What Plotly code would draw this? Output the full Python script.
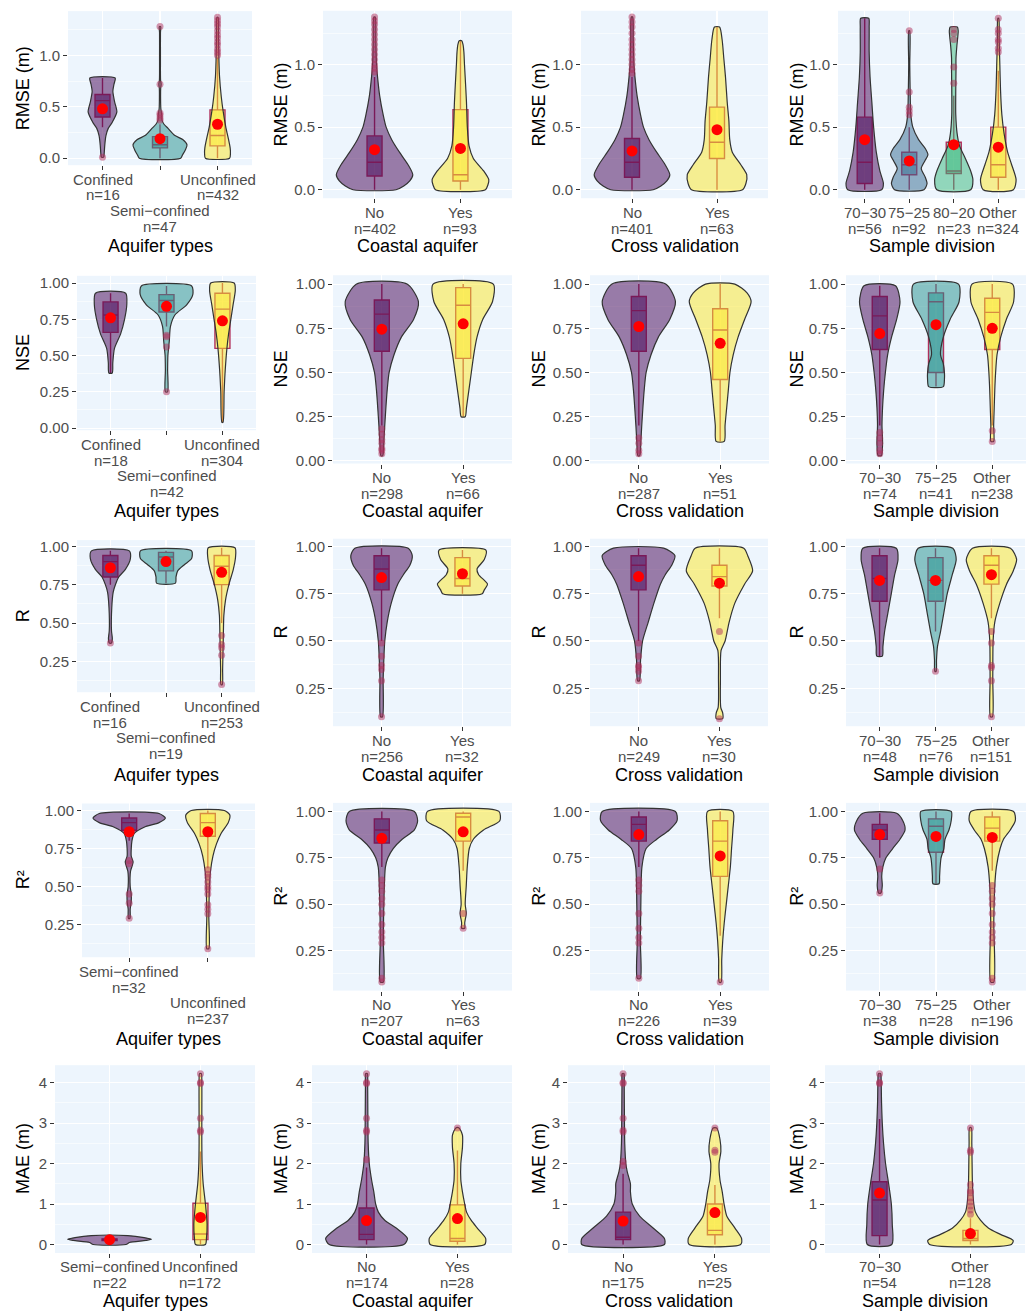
import plotly.graph_objects as go

W, H = 1032, 1316
M = "\u2212"

# ---------------- categories ----------------
AQ3 = ["Confined", "Semi" + M + "confined", "Unconfined"]
AQ2 = ["Semi" + M + "confined", "Unconfined"]
YN = ["No", "Yes"]
SD4 = ["70" + M + "30", "75" + M + "25", "80" + M + "20", "Other"]
SD3 = ["70" + M + "30", "75" + M + "25", "Other"]
SD2 = ["70" + M + "30", "Other"]

# ---------------- RMSE ----------------
RMSE_AQ_N = [16, 47, 432]
RMSE_AQ_MEAN = [0.48, 0.19, 0.33]
RMSE_AQ_BOX = [[0.30, 0.40, 0.56, 0.62, 0.78], [0.0, 0.10, 0.13, 0.21, 0.33], [0.0, 0.12, 0.22, 0.47, 0.98]]
RMSE_AQ_OUT = [[0.01], [0.37, 0.39, 0.42, 0.44, 0.72, 1.28],
               [1.0, 1.03, 1.06, 1.1, 1.13, 1.17, 1.2, 1.24, 1.28, 1.31, 1.34, 1.37]]
RMSE_AQ_VIO = [
    [(0.01, 0.02), (0.05, 0.03), (0.13, 0.04), (0.22, 0.06), (0.29, 0.1), (0.35, 0.17), (0.45, 0.25),
     (0.55, 0.21), (0.65, 0.18), (0.72, 0.2), (0.78, 0.22)],
    [(0.0, 0.36), (0.03, 0.39), (0.08, 0.44), (0.13, 0.47), (0.18, 0.4), (0.22, 0.26), (0.29, 0.14),
     (0.33, 0.07), (0.37, 0.035), (0.42, 0.03), (0.48, 0.015), (0.6, 0.01), (0.68, 0.012), (0.72, 0.02),
     (0.76, 0.01), (1.0, 0.008), (1.22, 0.008), (1.28, 0.012)],
    [(0.0, 0.21), (0.05, 0.225), (0.1, 0.22), (0.2, 0.185), (0.3, 0.145), (0.45, 0.10), (0.6, 0.065),
     (0.8, 0.035), (1.0, 0.023), (1.2, 0.017), (1.37, 0.01)],
]

RMSE_CO_N = [402, 93]
RMSE_CO_MEAN = [0.32, 0.33]
RMSE_CO_BOX = [[0.0, 0.11, 0.22, 0.43, 0.9], [0.0, 0.07, 0.12, 0.64, 1.19]]
RMSE_CO_OUT = [[0.94, 0.97, 1.0, 1.04, 1.08, 1.12, 1.16, 1.2, 1.24, 1.28, 1.32, 1.35, 1.38], []]
RMSE_CO_VIO = [
    [(0.0, 0.25), (0.03, 0.34), (0.07, 0.41), (0.12, 0.445), (0.2, 0.39), (0.3, 0.29), (0.4, 0.2),
     (0.5, 0.135), (0.6, 0.1), (0.75, 0.06), (0.9, 0.035), (1.0, 0.023), (1.2, 0.015), (1.38, 0.008)],
    [(0.0, 0.29), (0.04, 0.32), (0.08, 0.33), (0.15, 0.27), (0.25, 0.15), (0.35, 0.1), (0.5, 0.08),
     (0.7, 0.07), (0.9, 0.055), (1.0, 0.047), (1.1, 0.04), (1.16, 0.03), (1.19, 0.015)],
]

RMSE_CV_N = [401, 63]
RMSE_CV_MEAN = [0.31, 0.48]
RMSE_CV_BOX = [[0.0, 0.10, 0.22, 0.41, 0.9], [0.0, 0.25, 0.38, 0.66, 1.3]]
RMSE_CV_OUT = [[0.93, 0.96, 1.0, 1.04, 1.08, 1.12, 1.16, 1.2, 1.25, 1.3, 1.34, 1.38], []]
RMSE_CV_VIO = [
    [(0.0, 0.25), (0.03, 0.34), (0.07, 0.41), (0.12, 0.445), (0.2, 0.39), (0.3, 0.29), (0.4, 0.2),
     (0.5, 0.135), (0.6, 0.1), (0.75, 0.06), (0.9, 0.035), (1.0, 0.023), (1.2, 0.015), (1.38, 0.008)],
    [(0.0, 0.3), (0.05, 0.34), (0.12, 0.35), (0.2, 0.28), (0.3, 0.18), (0.4, 0.15), (0.55, 0.14),
     (0.7, 0.12), (0.9, 0.1), (1.05, 0.08), (1.2, 0.06), (1.3, 0.03)],
]

RMSE_SD_N = [56, 92, 23, 324]
RMSE_SD_MEAN = [0.40, 0.23, 0.36, 0.34]
RMSE_SD_BOX = [[0.0, 0.05, 0.22, 0.58, 1.37], [0.0, 0.12, 0.2, 0.3, 0.5],
               [0.0, 0.13, 0.15, 0.38, 0.75], [0.0, 0.1, 0.2, 0.5, 0.95]]
RMSE_SD_OUT = [[], [0.6, 0.63, 0.66, 0.78, 1.27], [0.85, 0.98, 1.2, 1.25, 1.28],
               [1.1, 1.13, 1.18, 1.2, 1.25, 1.28, 1.37]]
RMSE_SD_VIO = [
    [(0.0, 0.38), (0.05, 0.42), (0.15, 0.34), (0.3, 0.26), (0.5, 0.2), (0.7, 0.16), (0.9, 0.12),
     (1.1, 0.1), (1.3, 0.1), (1.37, 0.09)],
    [(0.0, 0.33), (0.05, 0.4), (0.1, 0.36), (0.17, 0.27), (0.23, 0.35), (0.28, 0.42), (0.33, 0.36),
     (0.4, 0.21), (0.5, 0.08), (0.6, 0.035), (0.8, 0.02), (1.0, 0.012), (1.27, 0.01)],
    [(0.0, 0.38), (0.08, 0.43), (0.15, 0.38), (0.25, 0.26), (0.35, 0.13), (0.45, 0.075), (0.6, 0.045),
     (0.8, 0.045), (0.95, 0.05), (1.05, 0.05), (1.15, 0.07), (1.22, 0.09), (1.27, 0.1), (1.3, 0.08)],
    [(0.0, 0.34), (0.08, 0.4), (0.2, 0.3), (0.3, 0.21), (0.45, 0.13), (0.6, 0.08), (0.8, 0.05),
     (1.0, 0.035), (1.2, 0.02), (1.37, 0.01)],
]

# ---------------- NSE ----------------
NSE_AQ_N = [18, 42, 304]
NSE_AQ_MEAN = [0.76, 0.84, 0.74]
NSE_AQ_BOX = [[0.38, 0.66, 0.78, 0.87, 0.93], [0.7, 0.8, 0.88, 0.92, 0.98], [0.04, 0.55, 0.82, 0.93, 1.0]]
NSE_AQ_OUT = [[], [0.25, 0.56, 0.63, 0.64], []]
NSE_AQ_VIO = [
    [(0.38, 0.03), (0.45, 0.04), (0.55, 0.07), (0.65, 0.18), (0.75, 0.25), (0.85, 0.29), (0.93, 0.27)],
    [(0.25, 0.02), (0.4, 0.02), (0.5, 0.025), (0.6, 0.05), (0.7, 0.07), (0.78, 0.15), (0.85, 0.36),
     (0.92, 0.47), (0.98, 0.45)],
    [(0.04, 0.01), (0.25, 0.03), (0.4, 0.05), (0.55, 0.08), (0.65, 0.11), (0.75, 0.15), (0.85, 0.19),
     (0.95, 0.23), (1.0, 0.21)],
]

NSE_CO_N = [298, 66]
NSE_CO_MEAN = [0.745, 0.775]
NSE_CO_BOX = [[0.2, 0.62, 0.83, 0.91, 1.0], [0.25, 0.58, 0.88, 0.98, 1.0]]
NSE_CO_OUT = [[0.04, 0.06, 0.07, 0.1, 0.12, 0.15, 0.18], []]
NSE_CO_VIO = [
    [(0.03, 0.012), (0.1, 0.024), (0.2, 0.036), (0.3, 0.05), (0.4, 0.066), (0.5, 0.09), (0.6, 0.15),
     (0.7, 0.24), (0.8, 0.39), (0.9, 0.45), (1.0, 0.31)],
    [(0.25, 0.025), (0.3, 0.04), (0.4, 0.07), (0.5, 0.1), (0.6, 0.13), (0.7, 0.17), (0.8, 0.24),
     (0.9, 0.36), (1.0, 0.37)],
]

NSE_CV_N = [287, 51]
NSE_CV_MEAN = [0.76, 0.665]
NSE_CV_BOX = [[0.2, 0.62, 0.85, 0.93, 1.0], [0.11, 0.46, 0.74, 0.86, 1.0]]
NSE_CV_OUT = [[0.04, 0.06, 0.1, 0.13], []]
NSE_CV_VIO = [
    [(0.03, 0.012), (0.1, 0.024), (0.2, 0.036), (0.3, 0.05), (0.4, 0.066), (0.5, 0.09), (0.6, 0.15),
     (0.7, 0.24), (0.8, 0.38), (0.9, 0.45), (1.0, 0.33)],
    [(0.11, 0.05), (0.2, 0.06), (0.3, 0.08), (0.4, 0.1), (0.5, 0.12), (0.6, 0.16), (0.7, 0.22),
     (0.8, 0.3), (0.9, 0.38), (0.95, 0.33), (1.0, 0.18)],
]

NSE_SD_N = [74, 41, 238]
NSE_SD_MEAN = [0.72, 0.77, 0.75]
NSE_SD_BOX = [[0.2, 0.63, 0.82, 0.93, 0.99], [0.42, 0.5, 0.9, 0.95, 1.0], [0.2, 0.63, 0.84, 0.92, 1.0]]
NSE_SD_OUT = [[0.04, 0.06, 0.1, 0.13, 0.16], [], [0.11, 0.17]]
NSE_SD_VIO = [
    [(0.03, 0.03), (0.1, 0.05), (0.2, 0.04), (0.3, 0.05), (0.4, 0.07), (0.5, 0.1), (0.6, 0.14),
     (0.7, 0.21), (0.8, 0.3), (0.9, 0.36), (0.99, 0.28)],
    [(0.42, 0.13), (0.46, 0.15), (0.5, 0.15), (0.55, 0.13), (0.6, 0.08), (0.7, 0.13), (0.8, 0.25),
     (0.9, 0.41), (1.0, 0.4)],
    [(0.11, 0.025), (0.2, 0.025), (0.3, 0.035), (0.4, 0.045), (0.5, 0.06), (0.6, 0.085), (0.7, 0.15),
     (0.8, 0.25), (0.9, 0.38), (1.0, 0.36)],
]

# ---------------- R ----------------
R_AQ_N = [16, 19, 253]
R_AQ_MEAN = [0.86, 0.9, 0.83]
R_AQ_BOX = [[0.75, 0.8, 0.9, 0.94, 0.97], [0.76, 0.84, 0.93, 0.96, 0.97], [0.5, 0.75, 0.87, 0.94, 0.99]]
R_AQ_OUT = [[0.37], [], [0.1, 0.29, 0.34, 0.36, 0.42]]
R_AQ_VIO = [
    [(0.37, 0.02), (0.4, 0.035), (0.45, 0.02), (0.6, 0.025), (0.7, 0.05), (0.75, 0.09), (0.8, 0.15),
     (0.85, 0.27), (0.92, 0.36), (0.97, 0.34)],
    [(0.76, 0.17), (0.8, 0.18), (0.84, 0.21), (0.88, 0.33), (0.92, 0.46), (0.97, 0.46)],
    [(0.1, 0.012), (0.2, 0.018), (0.4, 0.03), (0.55, 0.04), (0.65, 0.07), (0.75, 0.13), (0.85, 0.21),
     (0.93, 0.25), (0.99, 0.24)],
]

R_CO_N = [256, 32]
R_CO_MEAN = [0.835, 0.855]
R_CO_BOX = [[0.5, 0.77, 0.88, 0.95, 0.99], [0.75, 0.79, 0.83, 0.94, 0.98]]
R_CO_OUT = [[0.1, 0.29, 0.35, 0.37, 0.42, 0.49], []]
R_CO_VIO = [
    [(0.1, 0.012), (0.3, 0.02), (0.4, 0.028), (0.5, 0.04), (0.6, 0.07), (0.7, 0.12), (0.8, 0.2),
     (0.85, 0.27), (0.9, 0.35), (0.95, 0.38), (0.99, 0.33)],
    [(0.75, 0.245), (0.77, 0.27), (0.8, 0.31), (0.85, 0.2), (0.88, 0.18), (0.93, 0.27), (0.98, 0.29)],
]

R_CV_N = [249, 30]
R_CV_MEAN = [0.84, 0.805]
R_CV_BOX = [[0.5, 0.77, 0.9, 0.95, 0.99], [0.62, 0.79, 0.84, 0.9, 0.99]]
R_CV_OUT = [[0.29, 0.34, 0.36, 0.37, 0.42, 0.49], [0.09, 0.55]]
R_CV_VIO = [
    [(0.29, 0.012), (0.4, 0.025), (0.5, 0.05), (0.6, 0.12), (0.7, 0.19), (0.8, 0.27), (0.85, 0.33),
     (0.9, 0.41), (0.95, 0.45), (0.99, 0.31)],
    [(0.09, 0.04), (0.12, 0.04), (0.15, 0.016), (0.3, 0.012), (0.45, 0.02), (0.5, 0.07), (0.6, 0.12),
     (0.7, 0.19), (0.8, 0.31), (0.87, 0.41), (0.95, 0.35), (0.99, 0.3)],
]

R_SD_N = [48, 76, 151]
R_SD_MEAN = [0.82, 0.82, 0.85]
R_SD_BOX = [[0.42, 0.71, 0.83, 0.95, 0.99], [0.55, 0.71, 0.82, 0.94, 0.99], [0.62, 0.8, 0.9, 0.95, 0.99]]
R_SD_OUT = [[], [0.34], [0.1, 0.29, 0.36, 0.37, 0.49, 0.55]]
R_SD_VIO = [
    [(0.42, 0.05), (0.47, 0.06), (0.55, 0.09), (0.65, 0.15), (0.75, 0.21), (0.85, 0.27), (0.93, 0.33),
     (0.99, 0.3)],
    [(0.34, 0.012), (0.4, 0.018), (0.47, 0.035), (0.55, 0.09), (0.65, 0.15), (0.75, 0.21), (0.85, 0.3),
     (0.93, 0.37), (0.99, 0.31)],
    [(0.1, 0.018), (0.3, 0.024), (0.5, 0.03), (0.6, 0.06), (0.7, 0.15), (0.8, 0.27), (0.87, 0.39),
     (0.93, 0.45), (0.99, 0.34)],
]

# ---------------- R2 ----------------
R2_AQ_N = [32, 237]
R2_AQ_MEAN = [0.86, 0.86]
R2_AQ_BOX = [[0.8, 0.87, 0.92, 0.95, 0.98], [0.62, 0.83, 0.92, 0.98, 1.0]]
R2_AQ_OUT = [[0.29, 0.39, 0.45, 0.65, 0.67],
             [0.09, 0.32, 0.35, 0.38, 0.45, 0.48, 0.5, 0.53, 0.56, 0.58, 0.61]]
R2_AQ_VIO = [
    [(0.29, 0.01), (0.35, 0.013), (0.4, 0.026), (0.45, 0.026), (0.5, 0.013), (0.6, 0.017), (0.66, 0.05),
     (0.7, 0.026), (0.8, 0.035), (0.85, 0.065), (0.89, 0.19), (0.92, 0.38), (0.95, 0.46), (0.98, 0.38)],
    [(0.09, 0.013), (0.3, 0.013), (0.5, 0.021), (0.6, 0.034), (0.7, 0.065), (0.78, 0.11), (0.85, 0.17),
     (0.92, 0.26), (0.97, 0.28), (1.0, 0.21)],
]

R2_CO_N = [207, 63]
R2_CO_MEAN = [0.855, 0.89]
R2_CO_BOX = [[0.7, 0.83, 0.9, 0.96, 1.0], [0.68, 0.84, 0.97, 0.99, 1.0]]
R2_CO_OUT = [[0.08, 0.1, 0.29, 0.32, 0.35, 0.39, 0.45, 0.5, 0.53, 0.57, 0.6, 0.63], [0.37, 0.45]]
R2_CO_VIO = [
    [(0.08, 0.019), (0.3, 0.019), (0.5, 0.025), (0.7, 0.044), (0.75, 0.075), (0.8, 0.14), (0.85, 0.25),
     (0.9, 0.4), (0.95, 0.44), (1.0, 0.4)],
    [(0.37, 0.019), (0.4, 0.019), (0.45, 0.038), (0.5, 0.025), (0.6, 0.038), (0.7, 0.05), (0.8, 0.075),
     (0.85, 0.125), (0.9, 0.25), (0.95, 0.45), (1.0, 0.44)],
]

R2_CV_N = [226, 39]
R2_CV_MEAN = [0.875, 0.76]
R2_CV_BOX = [[0.7, 0.84, 0.93, 0.97, 1.0], [0.33, 0.65, 0.84, 0.95, 1.0]]
R2_CV_OUT = [[0.1, 0.29, 0.32, 0.37, 0.45, 0.57, 0.6, 0.63], [0.08]]
R2_CV_VIO = [
    [(0.1, 0.019), (0.3, 0.019), (0.5, 0.025), (0.7, 0.038), (0.8, 0.09), (0.85, 0.22), (0.9, 0.375),
     (0.95, 0.47), (1.0, 0.45)],
    [(0.08, 0.012), (0.2, 0.019), (0.3, 0.031), (0.4, 0.05), (0.5, 0.075), (0.6, 0.1), (0.7, 0.125),
     (0.8, 0.14), (0.9, 0.156), (1.0, 0.156)],
]

R2_SD_N = [38, 28, 196]
R2_SD_MEAN = [0.875, 0.865, 0.86]
R2_SD_BOX = [[0.75, 0.85, 0.9, 0.93, 0.99], [0.61, 0.78, 0.92, 0.96, 1.0], [0.68, 0.84, 0.91, 0.97, 1.0]]
R2_SD_OUT = [[0.56, 0.69], [], [0.08, 0.1, 0.29, 0.32, 0.35, 0.39, 0.45, 0.5, 0.53, 0.57, 0.6]]
R2_SD_VIO = [
    [(0.56, 0.02), (0.6, 0.045), (0.65, 0.035), (0.7, 0.055), (0.75, 0.11), (0.8, 0.23), (0.85, 0.36),
     (0.9, 0.45), (0.95, 0.41), (0.99, 0.3)],
    [(0.61, 0.055), (0.65, 0.064), (0.7, 0.073), (0.75, 0.09), (0.8, 0.14), (0.85, 0.16), (0.9, 0.23),
     (0.95, 0.27), (1.0, 0.27)],
    [(0.08, 0.027), (0.4, 0.027), (0.6, 0.045), (0.7, 0.073), (0.8, 0.14), (0.85, 0.2), (0.9, 0.32),
     (0.95, 0.41), (1.0, 0.38)],
]

# ---------------- MAE ----------------
MAE_AQ_N = [22, 172]
MAE_AQ_MEAN = [0.12, 0.67]
MAE_AQ_BOX = [[0.05, 0.1, 0.12, 0.14, 0.2], [0.0, 0.12, 0.26, 1.02, 2.3]]
MAE_AQ_OUT = [[], [2.78, 2.82, 3.12, 3.98, 4.0, 4.22]]
MAE_AQ_VIO = [
    [(0.0, 0.18), (0.05, 0.22), (0.1, 0.4), (0.13, 0.46), (0.17, 0.38), (0.22, 0.2)],
    [(0.0, 0.055), (0.15, 0.066), (0.5, 0.073), (1.0, 0.055), (1.5, 0.03), (2.0, 0.018), (2.5, 0.015),
     (3.0, 0.015), (4.0, 0.015), (4.22, 0.01)],
]

MAE_CO_N = [174, 28]
MAE_CO_MEAN = [0.59, 0.64]
MAE_CO_BOX = [[0.0, 0.12, 0.25, 0.9, 1.9], [0.0, 0.08, 0.15, 0.98, 2.32]]
MAE_CO_OUT = [[2.1, 2.78, 2.82, 3.12, 3.98, 4.0, 4.22], [2.88]]
MAE_CO_VIO = [
    [(0.0, 0.41), (0.15, 0.45), (0.4, 0.33), (0.6, 0.2), (0.8, 0.13), (1.0, 0.1), (1.3, 0.08),
     (1.6, 0.055), (2.0, 0.03), (2.5, 0.018), (3.0, 0.015), (4.0, 0.012), (4.22, 0.01)],
    [(0.0, 0.3), (0.15, 0.31), (0.4, 0.22), (0.6, 0.15), (0.8, 0.1), (1.0, 0.08), (1.3, 0.055),
     (1.6, 0.037), (2.0, 0.037), (2.4, 0.055), (2.7, 0.055), (2.88, 0.018)],
]

MAE_CV_N = [175, 25]
MAE_CV_MEAN = [0.58, 0.79]
MAE_CV_BOX = [[0.0, 0.12, 0.18, 0.8, 1.75], [0.0, 0.24, 0.35, 1.0, 1.47]]
MAE_CV_OUT = [[1.95, 2.05, 2.78, 2.82, 3.12, 3.98, 4.0, 4.22], [2.28, 2.33, 2.88]]
MAE_CV_VIO = [
    [(0.0, 0.45), (0.15, 0.45), (0.4, 0.33), (0.7, 0.18), (1.0, 0.1), (1.3, 0.08), (1.5, 0.08),
     (1.8, 0.045), (2.0, 0.03), (2.5, 0.018), (3.0, 0.015), (4.0, 0.012), (4.22, 0.01)],
    [(0.0, 0.28), (0.15, 0.29), (0.4, 0.22), (0.7, 0.13), (1.0, 0.1), (1.3, 0.08), (1.6, 0.055),
     (2.0, 0.045), (2.3, 0.065), (2.6, 0.055), (2.88, 0.02)],
]

MAE_SD_N = [54, 128]
MAE_SD_MEAN = [1.27, 0.27]
MAE_SD_BOX = [[0.0, 0.22, 1.1, 1.55, 3.1], [0.0, 0.1, 0.15, 0.35, 0.65]]
MAE_SD_OUT = [[3.98, 4.0, 4.22], [0.75, 0.85, 0.95, 1.05, 1.15, 1.28, 1.32, 1.48, 2.28, 2.33, 2.88]]
MAE_SD_VIO = [
    [(0.0, 0.135), (0.5, 0.14), (1.0, 0.13), (1.5, 0.1), (2.0, 0.066), (2.5, 0.044), (3.0, 0.03),
     (3.5, 0.022), (4.0, 0.018), (4.22, 0.012)],
    [(0.0, 0.45), (0.1, 0.47), (0.25, 0.33), (0.4, 0.2), (0.6, 0.11), (0.8, 0.055), (1.0, 0.037),
     (1.5, 0.022), (2.0, 0.018), (2.5, 0.015), (2.88, 0.01)],
]

# ---------------- styles ----------------
PURPLE, TEAL, YELLOW, BLUE, GREEN = "#440154", "#21908C", "#FDE725", "#31688E", "#35B779"
PAL = {2: [PURPLE, YELLOW], 3: [PURPLE, TEAL, YELLOW], 4: [PURPLE, BLUE, GREEN, YELLOW]}
CRIMSON = "#B0305C"
BG = "#EDF5FD"
FONT = "Liberation Sans, Arial, sans-serif"
TICKC = "#4D4D4D"

ROW_Y = {  # y-range, dtick, tick format, axis title, x-title y pixel
    1: ([-0.068, 1.43], 0.5, ".1f", "RMSE (m)", 245),
    2: ([-0.015, 1.05], 0.25, ".2f", "NSE", 512),
    3: ([0.05, 1.04], 0.25, ".2f", "R", 777),
    4: ([0.034, 1.046], 0.25, ".2f", "R\u00b2", 1043),
    5: ([-0.21, 4.43], 1, "d", "MAE (m)", 1307),
}
COL_X = {1: "Aquifer types", 2: "Coastal aquifer", 3: "Cross validation", 4: "Sample division"}

# panel frames in pixels: left, right, top, bottom
GEOM = {
    (1, 1): (68, 252, 8.2, 163.3), (1, 2): (323, 512, 7.8, 196.6), (1, 3): (581, 768, 7.8, 196.6), (1, 4): (838, 1025, 7.8, 196.6),
    (2, 1): (77, 256, 274.7, 430.2), (2, 2): (333, 512, 274.1, 463.7), (2, 3): (590, 769, 274.1, 463.7), (2, 4): (846, 1026, 274.1, 463.7),
    (3, 1): (77, 255, 540.8, 694.0), (3, 2): (333, 511, 539.4, 728.2), (3, 3): (590, 768, 539.4, 728.2), (3, 4): (846, 1025, 539.4, 728.2),
    (4, 1): (82, 255, 806.0, 960.8), (4, 2): (333, 512, 805.4, 994.4), (4, 3): (590, 769, 805.4, 994.4), (4, 4): (846, 1026, 805.4, 994.4),
    (5, 1): (55, 255, 1069.5, 1258.6), (5, 2): (312, 512, 1069.5, 1258.6), (5, 3): (568, 770, 1069.5, 1258.6), (5, 4): (825, 1025, 1069.5, 1258.6),
}

PANELS = [
    (1, 1, AQ3, RMSE_AQ_N, RMSE_AQ_MEAN, RMSE_AQ_BOX, RMSE_AQ_OUT, RMSE_AQ_VIO, [0, 1, 0]),
    (1, 2, YN, RMSE_CO_N, RMSE_CO_MEAN, RMSE_CO_BOX, RMSE_CO_OUT, RMSE_CO_VIO, None),
    (1, 3, YN, RMSE_CV_N, RMSE_CV_MEAN, RMSE_CV_BOX, RMSE_CV_OUT, RMSE_CV_VIO, None),
    (1, 4, SD4, RMSE_SD_N, RMSE_SD_MEAN, RMSE_SD_BOX, RMSE_SD_OUT, RMSE_SD_VIO, None),
    (2, 1, AQ3, NSE_AQ_N, NSE_AQ_MEAN, NSE_AQ_BOX, NSE_AQ_OUT, NSE_AQ_VIO, [0, 1, 0]),
    (2, 2, YN, NSE_CO_N, NSE_CO_MEAN, NSE_CO_BOX, NSE_CO_OUT, NSE_CO_VIO, None),
    (2, 3, YN, NSE_CV_N, NSE_CV_MEAN, NSE_CV_BOX, NSE_CV_OUT, NSE_CV_VIO, None),
    (2, 4, SD3, NSE_SD_N, NSE_SD_MEAN, NSE_SD_BOX, NSE_SD_OUT, NSE_SD_VIO, None),
    (3, 1, AQ3, R_AQ_N, R_AQ_MEAN, R_AQ_BOX, R_AQ_OUT, R_AQ_VIO, [0, 1, 0]),
    (3, 2, YN, R_CO_N, R_CO_MEAN, R_CO_BOX, R_CO_OUT, R_CO_VIO, None),
    (3, 3, YN, R_CV_N, R_CV_MEAN, R_CV_BOX, R_CV_OUT, R_CV_VIO, None),
    (3, 4, SD3, R_SD_N, R_SD_MEAN, R_SD_BOX, R_SD_OUT, R_SD_VIO, None),
    (4, 1, AQ2, R2_AQ_N, R2_AQ_MEAN, R2_AQ_BOX, R2_AQ_OUT, R2_AQ_VIO, [0, 1]),
    (4, 2, YN, R2_CO_N, R2_CO_MEAN, R2_CO_BOX, R2_CO_OUT, R2_CO_VIO, None),
    (4, 3, YN, R2_CV_N, R2_CV_MEAN, R2_CV_BOX, R2_CV_OUT, R2_CV_VIO, None),
    (4, 4, SD3, R2_SD_N, R2_SD_MEAN, R2_SD_BOX, R2_SD_OUT, R2_SD_VIO, None),
    (5, 1, AQ2, MAE_AQ_N, MAE_AQ_MEAN, MAE_AQ_BOX, MAE_AQ_OUT, MAE_AQ_VIO, None),
    (5, 2, YN, MAE_CO_N, MAE_CO_MEAN, MAE_CO_BOX, MAE_CO_OUT, MAE_CO_VIO, None),
    (5, 3, YN, MAE_CV_N, MAE_CV_MEAN, MAE_CV_BOX, MAE_CV_OUT, MAE_CV_VIO, None),
    (5, 4, SD2, MAE_SD_N, MAE_SD_MEAN, MAE_SD_BOX, MAE_SD_OUT, MAE_SD_VIO, None),
]


def rgba(h, a):
    h = h.lstrip("#")
    return "rgba(%d,%d,%d,%.3f)" % (int(h[0:2], 16), int(h[2:4], 16), int(h[4:6], 16), a)


fig = go.Figure()
annotations = []
layout = {}

for k, (r, c, cats, ns, means, boxes, outs, vios, dodge) in enumerate(PANELS, start=1):
    xa = "x" if k == 1 else "x%d" % k
    ya = "y" if k == 1 else "y%d" % k
    left, right, top, bottom = GEOM[(r, c)]
    yr, dt, fmt, ytitle, xty = ROW_Y[r]
    ncat = len(cats)
    cols = PAL[ncat]
    ppu = (right - left) / (ncat + 0.2)  # pixels per category unit
    bw = 15.0 / ppu

    for i in range(ncat):
        pos = i + 1
        col = cols[i]
        prof = vios[i]
        vx = [pos + w for (y, w) in prof] + [pos - w for (y, w) in reversed(prof)] + [pos + prof[0][1]]
        vy = [y for (y, w) in prof] + [y for (y, w) in reversed(prof)] + [prof[0][0]]
        fig.add_trace(go.Scatter(x=vx, y=vy, mode="lines", fill="toself", fillcolor=rgba(col, 0.5),
                                 line=dict(color="#333333", width=1.2, shape="spline", smoothing=0.7),
                                 hoverinfo="skip", xaxis=xa, yaxis=ya))
        lo, q1, med, q3, hi = boxes[i]
        fig.add_trace(go.Box(x=[pos], q1=[q1], median=[med], q3=[q3], lowerfence=[lo], upperfence=[hi],
                             width=bw, fillcolor=rgba(col, 0.5), line=dict(color=CRIMSON, width=1.4),
                             whiskerwidth=0, boxpoints=False, xaxis=xa, yaxis=ya))
        if outs[i]:
            fig.add_trace(go.Scatter(x=[pos] * len(outs[i]), y=outs[i], mode="markers",
                                     marker=dict(color=rgba(CRIMSON, 0.5), size=7, line=dict(width=0)),
                                     xaxis=xa, yaxis=ya))
        fig.add_trace(go.Scatter(x=[pos], y=[means[i]], mode="markers",
                                 marker=dict(color="#FF0000", size=11, line=dict(width=0)),
                                 xaxis=xa, yaxis=ya))
        # category labels (two lines, possibly dodged to a second level)
        lvl = dodge[i] if dodge else 0
        y1 = bottom + 14 + 32 * lvl
        for j, txt in enumerate([cats[i], "n=%d" % ns[i]]):
            annotations.append(dict(x=pos, y=1 - (y1 + 16 * j) / H, xref=xa, yref="paper",
                                    text=txt, showarrow=False, xanchor="center", yanchor="middle",
                                    font=dict(family=FONT, size=15, color=TICKC)))

    layout["xaxis" if k == 1 else "xaxis%d" % k] = dict(
        domain=[left / W, right / W], anchor=ya, range=[0.4, ncat + 0.6],
        tickmode="array", tickvals=list(range(1, ncat + 1)), showticklabels=False,
        ticks="outside", ticklen=4, tickcolor="#333333", tickwidth=1,
        showgrid=True, gridcolor="white", gridwidth=1.1, zeroline=False, showline=False, fixedrange=True)
    layout["yaxis" if k == 1 else "yaxis%d" % k] = dict(
        domain=[1 - bottom / H, 1 - top / H], anchor=xa, range=yr,
        tickmode="linear", tick0=0, dtick=dt, tickformat=fmt,
        ticks="outside", ticklen=4, tickcolor="#333333", tickwidth=1,
        tickfont=dict(family=FONT, size=15, color=TICKC),
        showgrid=True, gridcolor="white", gridwidth=1.1, zeroline=False, showline=False,
        minor=dict(tick0=0, dtick=dt / 2, showgrid=True, gridcolor="white", gridwidth=0.55),
        fixedrange=True)

    # axis titles
    annotations.append(dict(x=(left + right) / 2 / W, y=1 - xty / H, xref="paper", yref="paper",
                            text=COL_X[c], showarrow=False, xanchor="center", yanchor="middle",
                            font=dict(family=FONT, size=18, color="black")))
    annotations.append(dict(x=((c - 1) * 258 + 23) / W, y=1 - (top + bottom) / 2 / H, xref="paper",
                            yref="paper", text=ytitle, textangle=-90, showarrow=False,
                            xanchor="center", yanchor="middle",
                            font=dict(family=FONT, size=18, color="black")))

fig.update_layout(width=W, height=H, margin=dict(l=0, r=0, t=0, b=0), showlegend=False,
                  plot_bgcolor=BG, paper_bgcolor="white", annotations=annotations,
                  font=dict(family=FONT), **layout)

fig.write_html("out.html", config={"displayModeBar": False, "staticPlot": True},
               post_script="document.body.style.margin='0';")
